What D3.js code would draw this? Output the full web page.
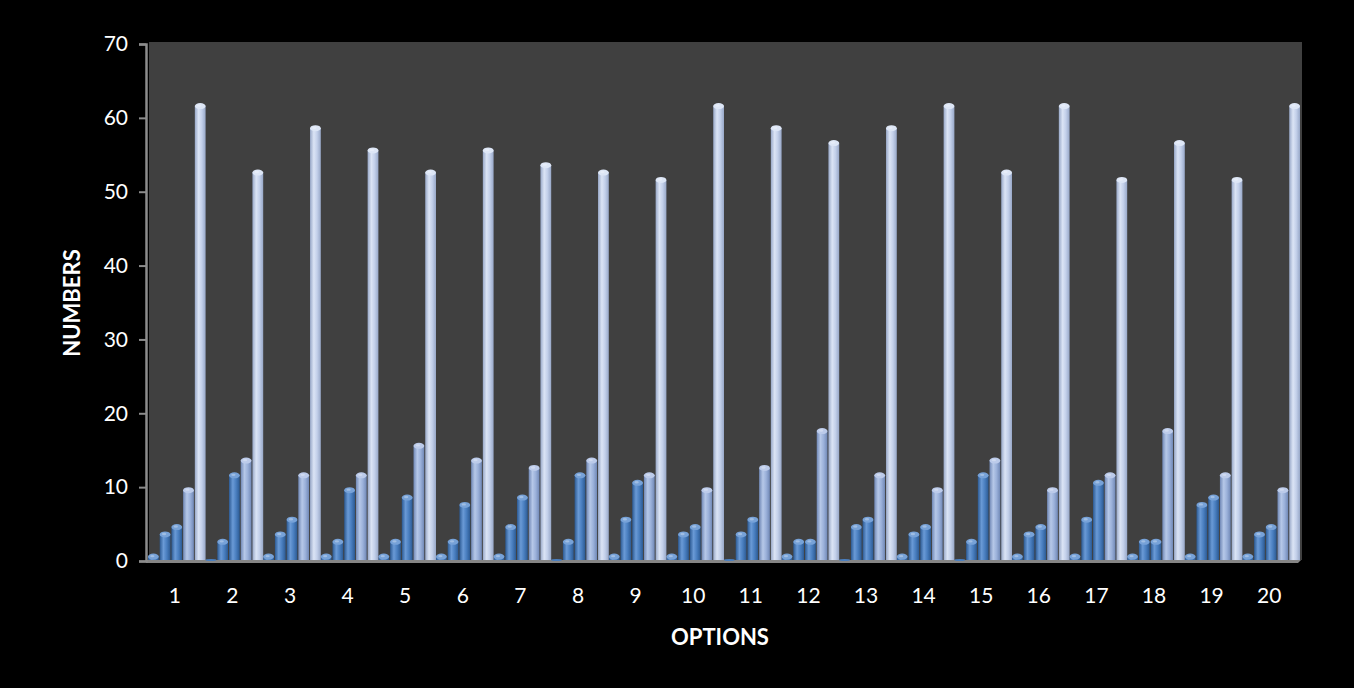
<!DOCTYPE html>
<html>
<head>
<meta charset="utf-8">
<script src="https://cdn.jsdelivr.net/npm/d3@7"></script>
<style>
    body { margin: 0; background: #000; }
    svg text { font-family: Lato, "Open Sans", sans-serif; fill: #fff; }
</style>
</head>
<body>
<div id="chart"></div>
<script>
var options = ["1", "2", "3", "4", "5", "6", "7", "8", "9", "10",
    "11", "12", "13", "14", "15", "16", "17", "18", "19", "20"];
var series1 = [1, 0, 1, 1, 1, 1, 1, 0, 1, 1, 0, 1, 0, 1, 0, 1, 1, 1, 1, 1];
var series2 = [4, 3, 4, 3, 3, 3, 5, 3, 6, 4, 4, 3, 5, 4, 3, 4, 6, 3, 8, 4];
var series3 = [5, 12, 6, 10, 9, 8, 9, 12, 11, 5, 6, 3, 6, 5, 12, 5, 11, 3, 9, 5];
var series4 = [10, 14, 12, 12, 16, 14, 13, 14, 12, 10, 13, 18, 12, 10, 14, 10, 12, 18, 12, 10];
var series5 = [62, 53, 59, 56, 53, 56, 54, 53, 52, 62, 59, 57, 59, 62, 53, 62, 52, 57, 52, 62];
var yTicks = [0, 10, 20, 30, 40, 50, 60, 70];

var allSeries = [series1, series2, series3, series4, series5];
// colours per series: [edge dark, mid, highlight, cap]
var colors = [
    ["#2c5a93", "#4a7fc0", "#6a9ad6", "#77a2d8"],
    ["#2c5a93", "#4a7fc0", "#6a9ad6", "#77a2d8"],
    ["#2c5a93", "#4a7fc0", "#6a9ad6", "#77a2d8"],
    ["#7088b6", "#9bb1da", "#b6c8e8", "#bccbea"],
    ["#98a8c8", "#c3d0ea", "#dbe4f5", "#dde6f6"]
];

var width = 1354, height = 688;
var plotLeft = 146, plotRight = 1298, plotTop = 44, plotBottom = 561;

var svg = d3.select("#chart").append("svg")
    .attr("width", width).attr("height", height);

var defs = svg.append("defs");
colors.forEach(function (c, i) {
    var g = defs.append("linearGradient").attr("id", "cyl" + i)
        .attr("x1", "0%").attr("x2", "100%").attr("y1", "0%").attr("y2", "0%");
    g.append("stop").attr("offset", "0%").attr("stop-color", c[0]);
    g.append("stop").attr("offset", "35%").attr("stop-color", c[2]);
    g.append("stop").attr("offset", "65%").attr("stop-color", c[1]);
    g.append("stop").attr("offset", "100%").attr("stop-color", c[0]);
});

var x = d3.scaleBand().domain(options).range([plotLeft, plotRight]).padding(0);
var xs = d3.scaleBand().domain(d3.range(5)).range([0, x.bandwidth()]).paddingInner(0.08);
var y = d3.scaleLinear().domain([0, 70]).range([plotBottom, plotTop]);

// back wall
svg.append("rect")
    .attr("x", plotLeft + 3).attr("y", plotTop - 2)
    .attr("width", plotRight - plotLeft + 1).attr("height", plotBottom - plotTop + 1)
    .attr("fill", "#404040");

// floor
svg.append("path")
    .attr("d", "M " + plotLeft + " " + (plotBottom - 1) + " L " + (plotRight + 3) + " " + (plotBottom - 1) +
        " L " + plotRight + " " + (plotBottom + 2) + " L " + plotLeft + " " + (plotBottom + 2) + " Z")
    .attr("fill", "#858585");

// bars
allSeries.forEach(function (vals, si) {
    var w = xs.bandwidth();
    var grp = svg.append("g");
    vals.forEach(function (v, ci) {
        var bx = x(options[ci]) + xs(si) + 2;
        var ry = 3;
        var topY = y(v) + ry;
        if (v > 0) {
            grp.append("rect")
                .attr("x", bx).attr("y", topY)
                .attr("width", w).attr("height", Math.max(0, plotBottom - 1 - topY))
                .attr("fill", "url(#cyl" + si + ")");
            grp.append("ellipse")
                .attr("cx", bx + w / 2).attr("cy", topY)
                .attr("rx", w / 2).attr("ry", ry)
                .attr("fill", colors[si][3]);
            grp.append("ellipse")
                .attr("cx", bx + w / 2 - 1).attr("cy", topY - 0.5)
                .attr("rx", w / 5).attr("ry", 1.2)
                .attr("fill", "#fff").attr("opacity", 0.3);
        } else {
            grp.append("ellipse")
                .attr("cx", bx + w / 2).attr("cy", plotBottom - 1)
                .attr("rx", w / 2).attr("ry", 1)
                .attr("fill", colors[si][1]);
        }
    });
});

// y axis
var yAxis = d3.axisLeft(y).tickValues(yTicks).tickSize(7).tickPadding(11);
var ya = svg.append("g").attr("transform", "translate(" + plotLeft + ",0)").call(yAxis);
ya.select(".domain").attr("stroke", "#8c8c8c").attr("stroke-width", 2.5);
ya.selectAll(".tick line").attr("stroke", "#8c8c8c").attr("stroke-width", 2);
ya.selectAll(".tick text").style("font-size", "21px").attr("fill", "#fff");

// x labels
svg.append("g").selectAll("text").data(options).enter().append("text")
    .attr("x", function (d) { return x(d) + x.bandwidth() / 2; })
    .attr("y", 603)
    .attr("text-anchor", "middle")
    .style("font-size", "21px")
    .text(function (d) { return d; });

// titles
svg.append("text")
    .attr("x", 720).attr("y", 645)
    .attr("text-anchor", "middle")
    .style("font-size", "22px").style("font-weight", "bold")
    .text("OPTIONS");

svg.append("text")
    .attr("transform", "translate(80,303) rotate(-90)")
    .attr("text-anchor", "middle")
    .style("font-size", "22px").style("font-weight", "bold")
    .text("NUMBERS");
</script>
</body>
</html>
